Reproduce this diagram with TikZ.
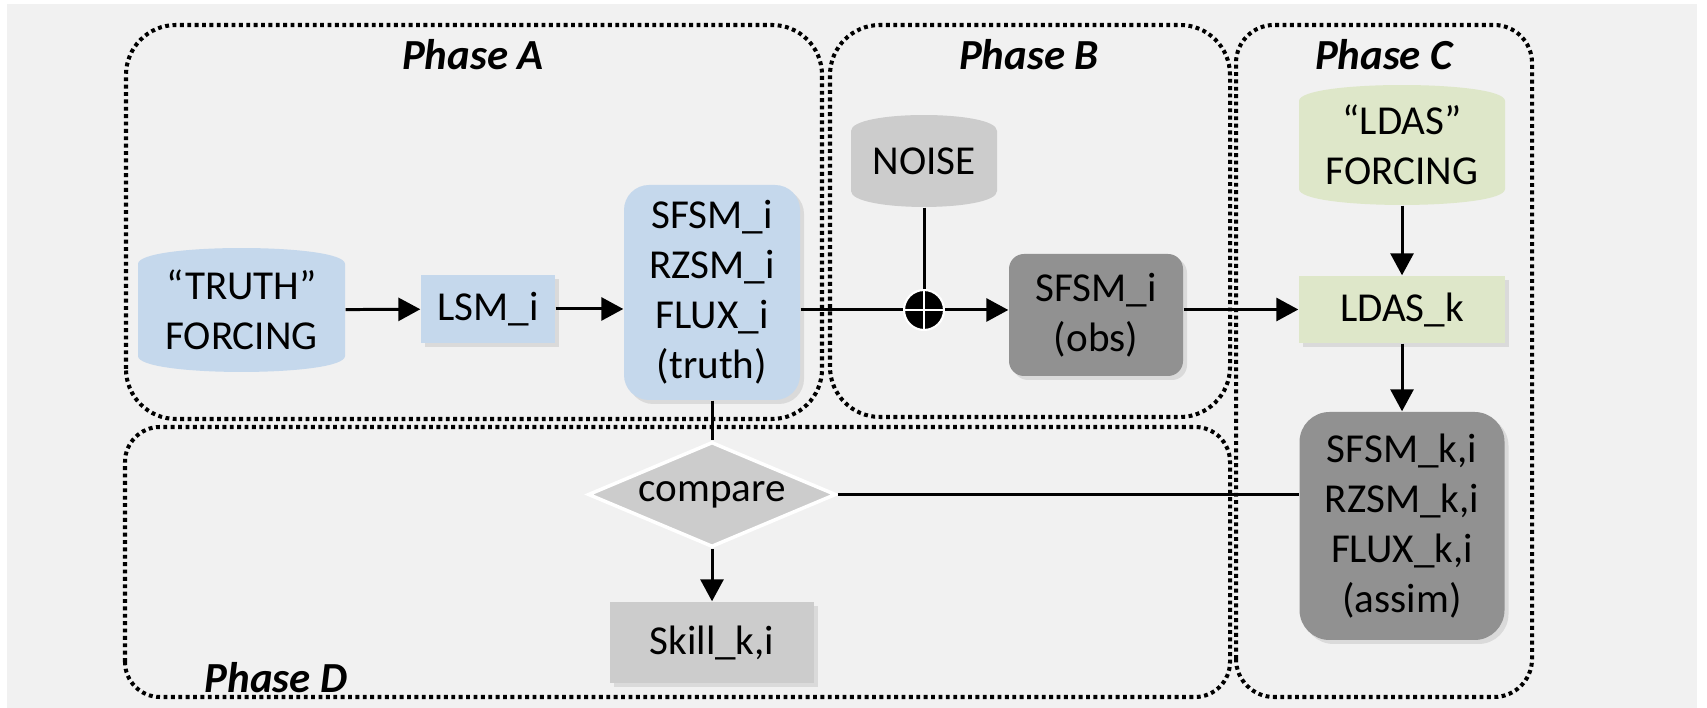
\documentclass[tikz,border=0pt]{standalone}
\usepackage{fontspec}
\setmainfont{Carlito}
\usetikzlibrary{arrows.meta,shapes.geometric,shadows}
\definecolor{bggray}{RGB}{241,241,241}
\definecolor{boxblue}{RGB}{197,216,236}
\definecolor{boxgreen}{RGB}{222,231,201}
\definecolor{lightgray}{RGB}{204,204,204}
\definecolor{midgray}{RGB}{145,145,145}
\tikzset{
phase/.style={draw,line width=1.15pt,dash pattern=on 1.1pt off 1pt,rounded corners=#1},
phaselabel/.style={font=\fontsize{12.2}{14}\selectfont\bfseries\itshape},
block/.style={rectangle,inner sep=0pt,align=center,font=\fontsize{11.7}{14.2}\selectfont,drop shadow={shadow xshift=0.4mm,shadow yshift=-0.4mm,opacity=0.2}},
can/.style={rectangle,inner sep=0pt,align=center,font=\fontsize{11.7}{14.2}\selectfont,
  path picture={\fill[#1] ([yshift=-1.6mm]path picture bounding box.north west)
    .. controls ([yshift=0.53mm]path picture bounding box.north west) and ([yshift=0.53mm]path picture bounding box.north east) .. ([yshift=-1.6mm]path picture bounding box.north east)
    -- ([yshift=1.6mm]path picture bounding box.south east)
    .. controls ([yshift=-0.53mm]path picture bounding box.south east) and ([yshift=-0.53mm]path picture bounding box.south west) .. ([yshift=1.6mm]path picture bounding box.south west) -- cycle;}},
junction/.style={circle,fill=black,draw=white,line width=0.6pt,minimum size=4mm,inner sep=0pt,
  path picture={\draw[white,line width=0.8pt] (path picture bounding box.north) -- (path picture bounding box.south) (path picture bounding box.west) -- (path picture bounding box.east);}},
arrow/.style={-{Triangle[length=2.2mm,width=2.3mm]},line width=0.85pt},
link/.style={line width=0.85pt}
}
\begin{document}
\begin{tikzpicture}
\useasboundingbox (0,0) rectangle (17.07,7.08);
\fill[bggray] (0.07,0) rectangle (16.97,7.04);

% phase frames
\draw[phase=5mm] (1.26,2.89) rectangle (8.22,6.83);
\draw[phase=5mm] (8.30,2.91) rectangle (12.30,6.83);
\draw[phase=3.8mm] (12.36,0.11) rectangle (15.32,6.83);
\draw[phase=3.5mm] (1.25,0.11) rectangle (12.30,2.81);
\node[phaselabel] (labA) at (4.73,6.53) {Phase A};
\node[phaselabel] (labB) at (10.29,6.53) {Phase B};
\node[phaselabel] (labC) at (13.84,6.53) {Phase C};
\node[phaselabel] (labD) at (2.76,0.30) {Phase D};

% Phase A
\node[can=boxblue,minimum width=20.7mm,minimum height=12.4mm] (truthforcing) at (2.415,3.98) {“TRUTH”\\FORCING};
\node[block,fill=boxblue,minimum width=13.4mm,minimum height=6.8mm] (lsm) at (4.88,3.99) {LSM\_i};
\node[block,fill=boxblue,rounded corners=2.5mm,minimum width=17.6mm,minimum height=21.5mm] (truth) at (7.12,4.155) {SFSM\_i\\RZSM\_i\\FLUX\_i\\(truth)};

% Phase B
\node[can=lightgray,minimum width=14.6mm,minimum height=9.2mm] (noise) at (9.24,5.47) {NOISE};
\node[junction] (plus) at (9.24,3.98) {};
\node[block,fill=midgray,rounded corners=1.5mm,minimum width=17.4mm,minimum height=12.2mm] (obs) at (10.96,3.93) {SFSM\_i\\(obs)};

% Phase C
\node[can=boxgreen,minimum width=20.6mm,minimum height=12mm] (ldasforcing) at (14.02,5.63) {“LDAS”\\FORCING};
\node[block,fill=boxgreen,minimum width=20.6mm,minimum height=6.7mm] (ldas) at (14.02,3.985) {LDAS\_k};
\node[block,fill=midgray,rounded corners=3mm,minimum width=20.5mm,minimum height=22.8mm] (assim) at (14.02,1.82) {SFSM\_k,i\\RZSM\_k,i\\FLUX\_k,i\\(assim)};

% Phase D
\node[diamond,aspect=2.36,fill=lightgray,draw=white,line width=1pt,inner sep=0pt,minimum width=24.8mm,minimum height=10.5mm,font=\fontsize{11.7}{14.2}\selectfont] (compare) at (7.12,2.135) {compare};
\node[block,fill=lightgray,minimum width=20.4mm,minimum height=8.1mm] (skill) at (7.12,0.655) {Skill\_k,i};

% connectors
\draw[arrow] (truthforcing) -- (lsm);
\draw[arrow] (lsm) -- (lsm -| truth.west);
\draw[link] (plus -| truth.east) -- (plus);
\draw[link] (noise) -- (plus);
\draw[arrow] (plus) -- (plus -| obs.west);
\draw[arrow] (obs.east |- ldas) -- (ldas);
\draw[arrow] (ldasforcing) -- (ldas);
\draw[arrow] (ldas) -- (assim);
\draw[link] (truth) -- (compare);
\draw[arrow] (compare) -- (skill);
\draw[link] (compare.east) -- (compare -| assim.west);
\end{tikzpicture}
\end{document}
